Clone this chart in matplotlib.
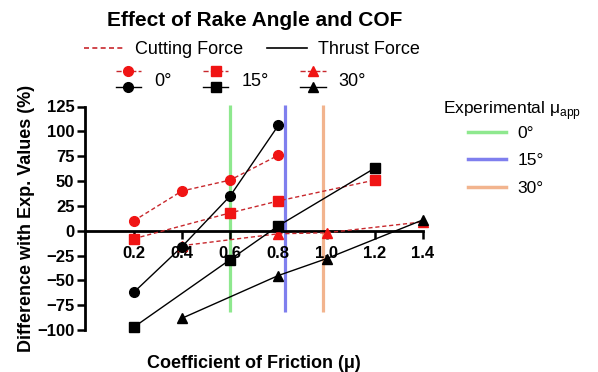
import matplotlib
matplotlib.use("Agg")
import matplotlib.pyplot as plt
from matplotlib.lines import Line2D
from matplotlib.legend_handler import HandlerBase

plt.rcParams['font.family'] = ['Liberation Sans', 'DejaVu Sans']
plt.rcParams['mathtext.fontset'] = 'custom'
plt.rcParams['mathtext.rm'] = 'Liberation Sans'

# data
x0 = [0.2, 0.4, 0.6, 0.8]
cut0 = [10, 40, 51, 76]
thr0 = [-62, -16, 35, 106]
x15 = [0.2, 0.6, 0.8, 1.2]
cut15 = [-8, 18, 30, 51]
thr15 = [-97, -29, 5, 63]
x30 = [0.4, 0.8, 1.0, 1.4]
cut30 = [-15, -3, -2, 9]
thr30 = [-88, -45, -28, 11]
exp_mu = [0.6, 0.828, 0.985]
exp_labels = ['0°', '15°', '30°']
exp_colors = ['#8ee88e', '#7f7fee', '#f2b48e']
xticks = [0.2, 0.4, 0.6, 0.8, 1.0, 1.2, 1.4]
yticks = [-100, -75, -50, -25, 0, 25, 50, 75, 100, 125]

red_line = '#c8282d'
red_mk = '#f01414'


class StackHandler(HandlerBase):
    def create_artists(self, legend, orig_handle, xdescent, ydescent,
                       width, height, fontsize, trans):
        arts = []
        xs = [-xdescent, -xdescent + width]
        xm = -xdescent + width / 2
        off = 0.44 * fontsize
        for h, y in zip(orig_handle, [height / 2 + off, height / 2 - off]):
            arts.append(Line2D(xs, [y, y], color=h.get_color(), ls=h.get_linestyle(),
                               lw=h.get_linewidth(), transform=trans))
            arts.append(Line2D([xm], [y], marker=h.get_marker(), ms=h.get_markersize(),
                               color=h.get_markerfacecolor(), ls='none', transform=trans))
        return arts


fig = plt.figure(figsize=(5.98, 3.72), dpi=100)
ax = fig.add_axes([85.5 / 598, 1 - 330.2 / 372, (423 - 85.5) / 598, (330.2 - 106.5) / 372])

for m, c in zip(exp_mu, exp_colors):
    ax.vlines(m, -82, 127, color=c, lw=2.3, zorder=1, clip_on=False)

handles = []
for xs, cut, thr, marker, ms in [(x0, cut0, thr0, 'o', 7), (x15, cut15, thr15, 's', 6.5),
                                 (x30, cut30, thr30, '^', 7)]:
    hc, = ax.plot(xs, cut, ls=(0, (3, 2)), lw=1, color=red_line, marker=marker, ms=ms,
                  mfc=red_mk, mec=red_mk, zorder=3, clip_on=False)
    ht, = ax.plot(xs, thr, ls='-', lw=1, color='black', marker=marker, ms=ms,
                  mfc='black', mec='black', zorder=4, clip_on=False)
    handles.append((hc, ht))

ax.set_xlim(0, 1.4)
ax.set_ylim(-100, 125)
ax.spines['top'].set_visible(False)
ax.spines['right'].set_visible(False)
ax.spines['bottom'].set_position(('data', 0))
ax.spines['bottom'].set_linewidth(2)
ax.spines['left'].set_linewidth(2)
ax.set_xticks(xticks)
ax.set_xticklabels([f'{v:.1f}' for v in xticks])
ax.set_yticks(yticks)
ax.tick_params(width=1.8, length=6, labelsize=12)
ax.tick_params(axis='y', pad=2)
ax.tick_params(axis='x', pad=5)
for lab in ax.get_xticklabels() + ax.get_yticklabels():
    lab.set_fontweight('bold')

ax.set_xlabel('Coefficient of Friction (μ)', fontsize=13, fontweight='bold')
ax.xaxis.set_label_coords(0.5, -0.11)
ax.set_ylabel('Difference with Exp. Values (%)', fontsize=13, fontweight='bold')
ax.yaxis.set_label_coords(-0.15, 0.5)

fig.text(255 / 598, 1 - 20 / 372, 'Effect of Rake Angle and COF', ha='center', va='center',
         fontsize=15, fontweight='bold')

style = [Line2D([], [], ls=(0, (3, 2)), lw=1.2, color=red_line),
         Line2D([], [], ls='-', lw=1.2, color='black')]
fig.legend(style, ['Cutting Force', 'Thrust Force'], loc='center', ncol=2,
           bbox_to_anchor=(252 / 598, 1 - 50 / 372), frameon=False, fontsize=13,
           handlelength=2.2, columnspacing=1.35, handletextpad=0.6)

fig.legend(handles, exp_labels, handler_map={tuple: StackHandler()}, loc='center', ncol=3,
           bbox_to_anchor=(241 / 598, 1 - 81 / 372), frameon=False, fontsize=13,
           handlelength=1.4, columnspacing=1.75, handletextpad=0.72)

fig.text(443 / 598, 1 - 111 / 372, 'Experimental $\\mathrm{μ}_{\\mathrm{app}}$',
         ha='left', va='center', fontsize=12.5)
exp_h = [Line2D([], [], color=c, lw=2.5) for c in exp_colors]
fig.legend(exp_h, exp_labels, loc='upper left', bbox_to_anchor=(461 / 598, 1 - 119 / 372),
           borderaxespad=0, frameon=False, fontsize=12.5,
           handlelength=2.2, handletextpad=0.65, labelspacing=0.7)

fig.savefig('out.png', dpi=100)
